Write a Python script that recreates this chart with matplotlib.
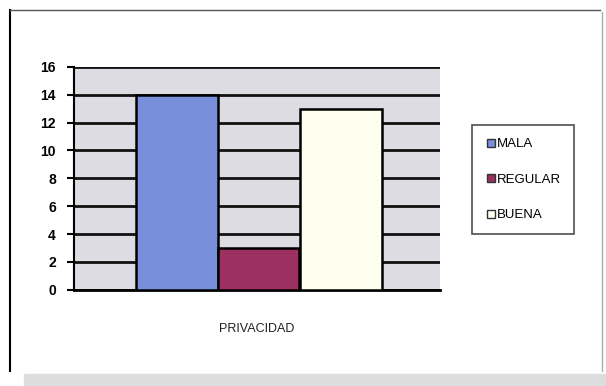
import matplotlib.pyplot as plt
from matplotlib.patches import Rectangle
from matplotlib.lines import Line2D

plt.rcParams['font.family'] = ['Liberation Sans', 'DejaVu Sans']

categorias = ['MALA', 'REGULAR', 'BUENA']
valores = [14, 3, 13]
colores = ['#7890dc', '#9c3060', '#fffff0']
etiqueta_x = 'PRIVACIDAD'

fig = plt.figure(figsize=(6.06, 3.86), dpi=100)
ax = fig.add_axes([0.122, 0.249, 0.604, 0.578])

pos = [0, 1, 2.02]
ax.bar(pos, valores, width=1.0, color=colores, edgecolor='black', linewidth=1.8, zorder=3)

ax.set_facecolor('#dcdce2')
ax.set_ylim(0, 16)
ax.set_xlim(-1.27, 3.24)
ax.set_yticks(range(0, 17, 2))
ax.yaxis.grid(True, color='#111111', linewidth=2, zorder=1)
ax.set_axisbelow(True)
ax.set_xticks([])
for s in ['top', 'right']:
    ax.spines[s].set_visible(False)
ax.spines['left'].set_linewidth(1.5)
ax.spines['bottom'].set_linewidth(2)
ax.tick_params(axis='y', length=5, width=1.5, labelsize=10, pad=8)
for t in ax.get_yticklabels():
    t.set_fontweight('bold')
ax.set_xlabel(etiqueta_x, fontsize=9, labelpad=24, color='#222222')

handles = [Line2D([0], [0], marker='s', linestyle='', markerfacecolor=c,
                  markeredgecolor='#333333', markersize=6) for c in colores]
leg = fig.legend(handles, categorias, loc='upper left', bbox_to_anchor=(0.779, 0.676),
                 borderaxespad=0, fontsize=9.5, frameon=True, fancybox=False,
                 edgecolor='#222222', handletextpad=0.0, labelspacing=1.75,
                 borderpad=1.0, handlelength=0.9)
leg.get_frame().set_linewidth(1.2)

# marco exterior
fig.add_artist(Line2D([0.017, 0.017], [0.04, 0.973], color='black', lw=1.5))
fig.add_artist(Line2D([0.017, 0.99], [0.973, 0.973], color='#555555', lw=1))
fig.add_artist(Line2D([0.993, 0.993], [0.04, 0.97], color='#aaaaaa', lw=1))
fig.add_artist(Rectangle((0.04, 0.0), 0.96, 0.03, color='#dddddd', transform=fig.transFigure))

fig.savefig('out.png', dpi=100)
